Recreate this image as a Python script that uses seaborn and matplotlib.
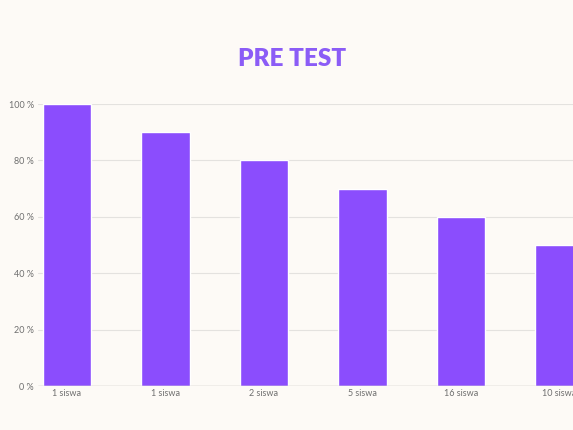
import matplotlib.pyplot as plt
import seaborn as sns
import pandas as pd

# Data
labels = ["1 siswa", "1 siswa", "2 siswa", "5 siswa", "16 siswa", "10 siswa"]
values = [100, 90, 80, 70, 60, 50]
yticks = [0, 20, 40, 60, 80, 100]

BG = "#FDFAF6"
BAR = "#8B4DFD"
TITLE = "#8B5CF6"

sns.set_style("white")
plt.rcParams["font.family"] = ["Lato", "DejaVu Sans"]

df = pd.DataFrame({"pos": range(len(labels)), "value": values})

fig = plt.figure(figsize=(5.73, 4.30), dpi=100, facecolor=BG)
ax = fig.add_axes([38 / 573, 44 / 430, 582 / 573, 282 / 430])
ax.set_facecolor(BG)

sns.barplot(data=df, x="pos", y="value", color=BAR, width=0.49,
            saturation=1, ax=ax, zorder=3)

ax.set_ylim(0, 100)
ax.set_xlim(-0.294, 5.614)
ax.set_yticks(yticks)
ax.set_yticklabels([f"{t} %" for t in yticks])
ax.set_xticks(range(len(labels)))
ax.set_xticklabels(labels)
ax.set_xlabel("")
ax.set_ylabel("")

# garis grid horizontal
for t in yticks[1:]:
    ax.axhline(t, color="#E4E2DF", lw=0.8, zorder=1)
ax.axhline(0, color="#BDBBB8", lw=1.0, zorder=4)

for s in ax.spines.values():
    s.set_visible(False)
ax.tick_params(axis="both", length=0, labelsize=6.5, labelcolor="#6F6F6F")
ax.tick_params(axis="y", pad=3)
ax.tick_params(axis="x", pad=2)

fig.text(292 / 573, 1 - 59 / 430, "PRE TEST", ha="center", va="center",
         fontsize=17.5, fontweight="heavy", color=TITLE)

fig.savefig("out.png", dpi=100, facecolor=BG)
